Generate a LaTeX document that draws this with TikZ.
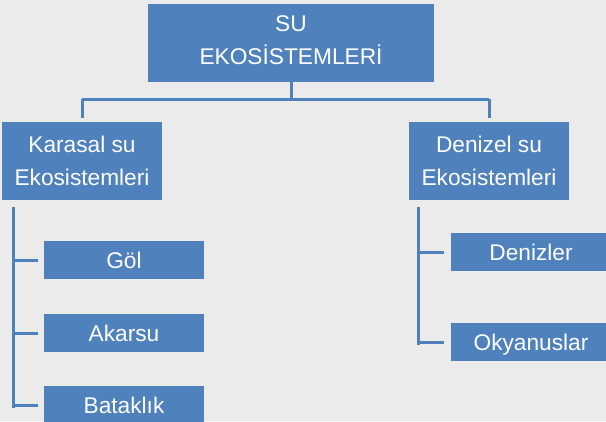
\documentclass[tikz,border=0pt]{standalone}
\usepackage{fontspec}
\setmainfont{Liberation Sans}
\definecolor{boxblue}{HTML}{4F81BD}
\definecolor{bggray}{HTML}{EBEBEB}
\begin{document}
\begin{tikzpicture}[x=1pt, y=-1pt,
    box/.style={fill=boxblue, text=white, minimum width=160pt, minimum height=38pt,
      inner sep=0pt, align=center, text height=16pt, text depth=0pt,
      font=\fontsize{22.7}{33}\selectfont},
    tallbox/.style={box, minimum height=78pt, text height=49pt},
    conn/.style={draw=boxblue, line width=3pt}]
      \useasboundingbox (0,0) rectangle (606,421);
      \fill[bggray] (0,0) rectangle (606,421);
      \node (su)[tallbox, minimum width=286pt, text depth=6pt] at (291,43) {SU\\EKOS\.{I}STEMLER\.{I}};
      \node (kara)[tallbox] at (82,161) {Karasal su\\Ekosistemleri};
      \node (deniz)[tallbox] at (489,161) {Denizel su\\Ekosistemleri};
      \node (gol)[box] at (124,260) {Göl};
      \node (akarsu)[box] at (124,333) {Akarsu};
      \node (batak)[box] at (124,405) {Bataklık};
      \node (denizler)[box] at (531,252) {Denizler};
      \node (okyanus)[box] at (531,342) {Okyanuslar};
      \coordinate (mid) at ([yshift=-17pt]su.south);
      \coordinate (kl) at ([xshift=12pt,yshift=-7pt]kara.south west);
      \coordinate (dl) at ([xshift=10pt,yshift=-7pt]deniz.south west);
      \draw[conn] (su.south) -- (mid);
      \draw[conn] (mid -| kara.north) -- (mid -| deniz.north);
      \draw[conn, shorten >=4pt] (mid -| kara.north) -- (kara.north);
      \draw[conn, shorten >=4pt] (mid -| deniz.north) -- (deniz.north);
      \draw[conn] (kl) -- ([yshift=-3pt]kl |- batak.west);
      \draw[conn, shorten >=6pt] (kl |- gol.west) -- (gol.west);
      \draw[conn, shorten >=6pt] (kl |- akarsu.west) -- (akarsu.west);
      \draw[conn, shorten >=6pt] (kl |- batak.west) -- (batak.west);
      \draw[conn] (dl) -- ([yshift=-3pt]dl |- okyanus.west);
      \draw[conn, shorten >=7pt] (dl |- denizler.west) -- (denizler.west);
      \draw[conn, shorten >=7pt] (dl |- okyanus.west) -- (okyanus.west);
    \end{tikzpicture}
\end{document}
